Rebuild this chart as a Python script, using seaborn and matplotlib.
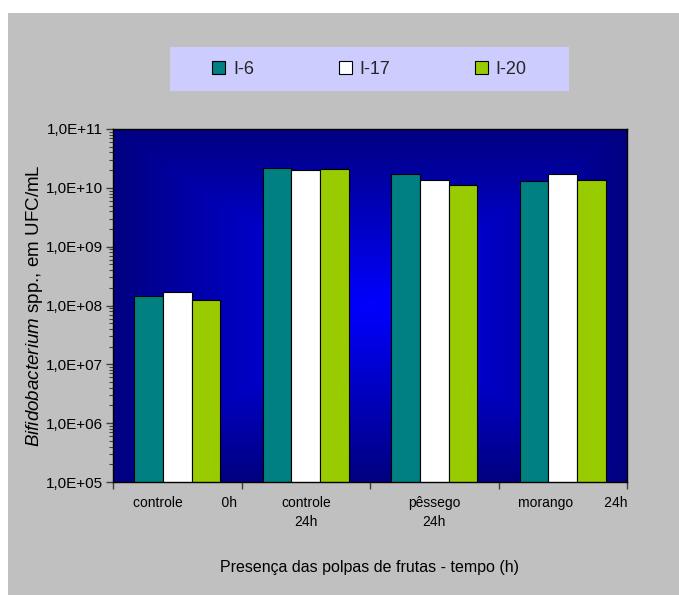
# bar chart: Bifidobacterium counts per isolate, log scale

import numpy as np
import pandas as pd
import seaborn as sns
import matplotlib.pyplot as plt
from matplotlib.patches import Rectangle
from matplotlib.ticker import FixedLocator, FuncFormatter, LogLocator, NullFormatter

# data
categorias = ["controle 0h", "controle 24h", "pêssego 24h", "morango 24h"]
rotulos = ["controle          0h", "controle\n24h", "pêssego\n24h", "morango        24h"]
isolados = ["I-6", "I-17", "I-20"]
i6 = [1.45e8, 2.2e10, 1.75e10, 1.3e10]
i17 = [1.7e8, 2.0e10, 1.35e10, 1.75e10]
i20 = [1.25e8, 2.1e10, 1.1e10, 1.35e10]
cores = ["#008080", "#FFFFFF", "#99CC00"]

df = pd.DataFrame({
    "amostra": categorias * 3,
    "isolado": [isolados[0]] * 4 + [isolados[1]] * 4 + [isolados[2]] * 4,
    "ufc": i6 + i17 + i20,
})

sns.set_theme(style="white")
plt.rcParams['font.family'] = ['Liberation Sans', 'DejaVu Sans']
plt.rcParams['mathtext.fontset'] = 'custom'
plt.rcParams['mathtext.it'] = 'Liberation Sans:italic'
plt.rcParams['mathtext.rm'] = 'Liberation Sans'

W, H = 679, 595
fig = plt.figure(figsize=(W / 100, H / 100), dpi=100, facecolor="white")

# gray chart area and lavender legend box
fig.add_artist(Rectangle((8 / W, 0), 1 - 8 / W, 1 - 13 / H, transform=fig.transFigure,
                         facecolor="#C0C0C0", edgecolor="none", zorder=-10))
fig.add_artist(Rectangle((170 / W, 1 - 91 / H), 399 / W, 44 / H, transform=fig.transFigure,
                         facecolor="#CCCCFF", edgecolor="none", zorder=-5))

ax = fig.add_axes([113 / W, 1 - 482 / H, 514 / W, 353 / H])

sns.barplot(data=df, x="amostra", y="ufc", hue="isolado", hue_order=isolados,
            palette=cores, saturation=1, width=0.67, edgecolor="black", linewidth=0.8, ax=ax)
ax.set_yscale("log")
for p in ax.patches:
    p.set_zorder(2)

# blue "from center" gradient background
nx, ny = 300, 200
u = np.linspace(-1, 1, nx)
v = np.linspace(-1, 1, ny)
U, V = np.meshgrid(u, v)
r = np.maximum(np.abs(U), np.abs(V))
img = np.zeros((ny, nx, 3))
img[..., 2] = (128 + 127 * (1 - r)) / 255
ax.imshow(img, extent=[0, 1, 0, 1], transform=ax.transAxes, aspect="auto",
          zorder=0, interpolation="bilinear")

ax.set_xlim(-0.5, 3.5)
ax.set_ylim(1e5, 1e11)

# y axis ticks
ax.yaxis.set_major_locator(FixedLocator([10.0 ** k for k in range(5, 12)]))
ax.yaxis.set_major_formatter(FuncFormatter(lambda y, pos: "1,0E+%02d" % int(round(np.log10(y)))))
ax.yaxis.set_minor_locator(LogLocator(base=10, subs=np.arange(2, 10)))
ax.yaxis.set_minor_formatter(NullFormatter())
ax.tick_params(axis="y", which="major", left=True, length=5, width=1, color="#404040",
               labelsize=11, pad=2, labelcolor="black")
ax.tick_params(axis="y", which="minor", left=True, length=3, width=0.8, color="#404040")

# x axis: ticks between groups, labels at group centers
ax.set_xticks([-0.5, 0.5, 1.5, 2.5, 3.5])
ax.set_xticklabels([])
ax.set_xticks([0.06, 1, 2, 3.08], minor=True)
ax.set_xticklabels(rotulos, minor=True, linespacing=1.45)
ax.tick_params(axis="x", which="major", bottom=True, length=5, width=1, color="#404040")
ax.tick_params(axis="x", which="minor", bottom=True, length=0, labelsize=10, pad=10,
               labelcolor="black")

ax.set_xlabel("Presença das polpas de frutas - tempo (h)", fontsize=11.5, color="black")
ax.xaxis.set_label_coords(0.5, -0.221)
ax.set_ylabel(r"$\it{Bifidobacterium}$ spp., em UFC/mL", fontsize=13.5, color="black")
ax.yaxis.set_label_coords(-0.132, 0.5)

for s in ax.spines.values():
    s.set_color("black")
    s.set_linewidth(1)

# legend on top of the lavender box
handles, labels = ax.get_legend_handles_labels()
ax.legend_.remove()
fig.legend(handles, labels, loc="center", bbox_to_anchor=(369.5 / W, 1 - 69 / H),
           ncol=3, frameon=False, fontsize=13, handlelength=0.72, handleheight=0.72,
           handletextpad=0.44, columnspacing=4.67)

fig.savefig("out.png", dpi=100)
